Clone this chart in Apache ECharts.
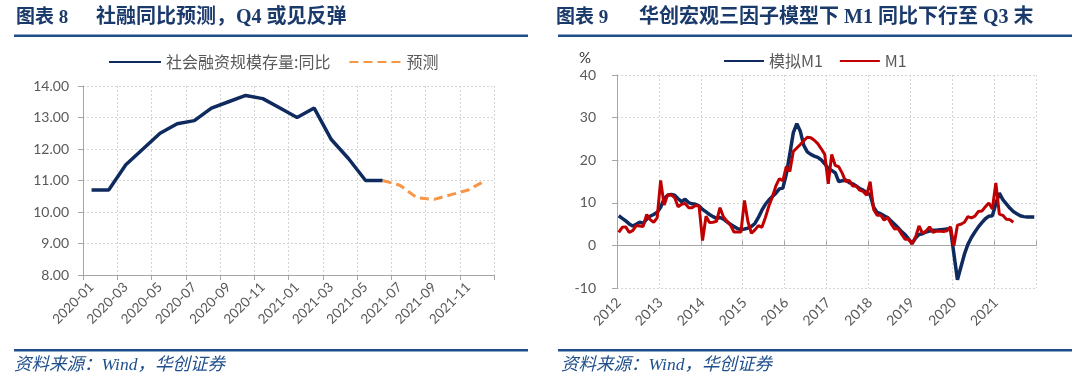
<!DOCTYPE html>
<html><head><meta charset="utf-8">
<script src="https://cdn.jsdelivr.net/npm/echarts@6/dist/echarts.min.js"></script>
<style>html,body{margin:0;padding:0;background:#fff}#c{width:1080px;height:387px}</style>
</head><body><div id="c"></div>
<script>
// ---------- Left chart: 社融同比 ----------
const sfMonths = ['2020-01','2020-02','2020-03','2020-04','2020-05','2020-06','2020-07','2020-08','2020-09','2020-10','2020-11','2020-12',
                  '2021-01','2021-02','2021-03','2021-04','2021-05','2021-06','2021-07','2021-08','2021-09','2021-10','2021-11','2021-12'];
const sfActual = [10.7,10.7,11.5,12.0,12.5,12.8,12.9,13.3,13.5,13.7,13.6,13.3,
                  13.0,13.3,12.3,11.7,11.0,11.0,null,null,null,null,null,null];
const sfForecast = [null,null,null,null,null,null,null,null,null,null,null,null,
                    null,null,null,null,null,11.0,10.85,10.45,10.4,10.55,10.7,11.0];
const sfYMin = 8, sfYMax = 14, sfYStep = 1;

// ---------- Right chart: M1 ----------
const m1Years = ['2012','2013','2014','2015','2016','2017','2018','2019','2020','2021'];
const m1Model = [
  7.0, 6.4, 5.8, 5.1, 4.6, 5.0, 5.5, 5.2, 6.2, 6.9, 7.3, 7.8,
  9.0, 11.0, 11.8, 12.0, 11.8, 11.0, 10.3, 10.9, 10.1, 9.8, 9.7, 9.3,
  8.5, 7.9, 7.3, 6.8, 6.4, 6.6, 6.2, 5.6, 5.0, 4.5, 4.0, 3.8,
  3.9, 4.1, 4.5, 5.2, 6.6, 8.3, 9.7, 10.7, 11.5, 12.3, 13.3, 13.5,
  16.8, 21.5, 26.5, 28.6, 26.8, 23.5, 22.0, 21.4, 21.0, 20.7, 20.1, 19.2,
  18.1, 17.6, 17.1, 15.0, 15.2, 15.4, 14.8, 14.5, 14.0, 13.4, 13.0, 12.4,
  12.0, 9.0, 7.8, 7.5, 7.0, 6.6, 5.8, 5.0, 4.2, 3.3, 2.6, 1.6,
  0.5, 1.8, 2.6, 2.8, 3.2, 3.4, 3.6, 3.6, 3.7, 3.8, 3.9, 4.0,
  -2.0, -8.0, -5.0, -2.0, 0.3, 1.9, 3.2, 4.4, 5.4, 6.3, 6.9, 7.0,
  9.8, 12.3, 10.8, 9.8, 8.8, 8.0, 7.5, 7.0, 6.8, 6.7, 6.7, 6.7
];
const m1Actual = [
  3.1, 4.3, 4.4, 3.1, 3.5, 4.7, 4.6, 4.5, 7.3, 6.1, 5.5, 6.5,
  15.3, 9.5, 11.9, 11.9, 11.3, 9.1, 9.7, 9.9, 8.9, 8.9, 9.4, 9.3,
  1.2, 6.9, 5.4, 5.5, 5.7, 8.9, 6.7, 5.7, 4.8, 3.2, 3.2, 3.2,
  10.6, 5.6, 2.9, 3.7, 4.7, 4.3, 6.6, 9.3, 11.4, 14.0, 15.7, 15.2,
  18.6, 17.4, 22.1, 22.9, 23.7, 24.6, 25.4, 25.3, 24.7, 23.9, 22.7, 21.4,
  14.5, 21.4, 18.8, 18.5, 17.0, 15.0, 15.3, 14.0, 14.0, 13.0, 12.7, 11.8,
  15.0, 8.5, 7.1, 7.2, 6.0, 6.6, 5.1, 3.9, 4.0, 2.7, 1.5, 1.5,
  0.4, 2.0, 4.6, 2.9, 3.4, 4.4, 3.1, 3.4, 3.4, 3.3, 3.5, 4.4,
  0.0, 4.8, 5.0, 5.5, 6.8, 6.5, 6.9, 8.0, 8.1, 9.1, 10.0, 8.6,
  14.7, 7.4, 7.1, 6.2, 6.1, 5.5
];
const m1YMin = -10, m1YMax = 40, m1YStep = 10;

// month categories built from the year list
const m1Months = [];
m1Years.forEach(y => { for (let k = 1; k <= 12; k++) m1Months.push(y + '-' + (k < 10 ? '0' + k : k)); });

const AX = '#A6A6A6', GRIDC = '#D4D4D4', LBL = '#595959';
const NAVY = '#0E2A5E', ORANGE = '#F79646', RED = '#C00000';
const RULE = '#1F4E8C', TITLE = '#1B3A6C';
const numFont = 'Lato, "Noto Sans CJK SC", sans-serif';
const cjkFont = '"Noto Sans CJK SC", Lato, sans-serif';
const titleFont = '"Liberation Serif", "Noto Sans CJK SC", serif';
const dotted = { color: GRIDC, width: 1, type: [2, 2] };
const noSymbol = { color: 'rgba(0,0,0,0)', borderColor: 'rgba(0,0,0,0)', borderWidth: 0 };

const chart = echarts.init(document.getElementById('c'), null, { renderer: 'canvas' });
chart.setOption({
  animation: false,
  backgroundColor: '#fff',
  grid: [
    { left: 83, top: 86, width: 411, height: 189, containLabel: false },
    { left: 617, top: 75, width: 419, height: 213.3, containLabel: false }
  ],
  legend: [
    { data: ['社会融资规模存量:同比', '预测'], left: 103, top: 49, itemWidth: 52, itemHeight: 12, itemGap: 18,
      itemStyle: noSymbol, textStyle: { color: LBL, fontSize: 16, fontFamily: cjkFont } },
    { data: ['模拟M1', 'M1'], left: 718, top: 48, itemWidth: 40, itemHeight: 12, itemGap: 16,
      itemStyle: noSymbol, textStyle: { color: LBL, fontSize: 16, fontFamily: cjkFont } }
  ],
  xAxis: [
    { gridIndex: 0, type: 'category', data: sfMonths, boundaryGap: true,
      axisLine: { show: true, lineStyle: { color: AX, width: 1 } },
      axisTick: { show: true, interval: 1, length: 5, lineStyle: { color: AX } },
      axisLabel: { interval: 1, rotate: 45, color: LBL, fontSize: 13.5, fontFamily: numFont, margin: 10 },
      splitLine: { show: true, interval: 1, lineStyle: dotted } },
    { gridIndex: 1, type: 'category', data: m1Months, boundaryGap: true,
      axisLine: { show: false, onZero: false },
      axisTick: { show: false },
      axisLabel: { interval: 11, rotate: 45, color: LBL, fontSize: 14, fontFamily: numFont, margin: 12,
                   formatter: v => v.slice(0, 4) },
      splitLine: { show: true, interval: 11, lineStyle: dotted } },
    { gridIndex: 1, type: 'category', data: m1Months, boundaryGap: true,
      axisLine: { show: true, onZero: true, lineStyle: { color: AX, width: 1 } },
      axisTick: { show: true, interval: 11, length: 5, lineStyle: { color: AX } },
      axisLabel: { show: false },
      splitLine: { show: false } }
  ],
  yAxis: [
    { gridIndex: 0, type: 'value', min: sfYMin, max: sfYMax, interval: sfYStep,
      axisLine: { show: true, lineStyle: { color: AX } },
      axisTick: { show: true, length: 5, lineStyle: { color: AX } },
      axisLabel: { color: LBL, fontSize: 14, fontFamily: numFont, margin: 14, formatter: v => v.toFixed(2) },
      splitLine: { show: true, lineStyle: dotted } },
    { gridIndex: 1, type: 'value', min: m1YMin, max: m1YMax, interval: m1YStep,
      axisLine: { show: true, onZero: false, lineStyle: { color: AX } },
      axisTick: { show: true, length: 5, lineStyle: { color: AX } },
      axisLabel: { color: LBL, fontSize: 14, fontFamily: numFont, margin: 21 },
      splitLine: { show: true, lineStyle: dotted } }
  ],
  series: [
    { name: '社会融资规模存量:同比', type: 'line', xAxisIndex: 0, yAxisIndex: 0, data: sfActual,
      symbol: 'none', color: NAVY, lineStyle: { color: NAVY, width: 3.5 } },
    { name: '预测', type: 'line', xAxisIndex: 0, yAxisIndex: 0, data: sfForecast,
      symbol: 'none', color: ORANGE, lineStyle: { color: ORANGE, width: 3, type: [9, 5] } },
    { name: '模拟M1', type: 'line', xAxisIndex: 1, yAxisIndex: 1, data: m1Model,
      symbol: 'none', color: NAVY, lineStyle: { color: NAVY, width: 3.5 } },
    { name: 'M1', type: 'line', xAxisIndex: 1, yAxisIndex: 1, data: m1Actual,
      symbol: 'none', color: RED, lineStyle: { color: RED, width: 3 } }
  ],
  graphic: [
    { type: 'text', left: 16, top: 9, style: { text: '图表 8', fill: TITLE, font: 'bold 19px ' + titleFont } },
    { type: 'text', left: 96, top: 8, style: { text: '社融同比预测，Q4 或见反弹', fill: TITLE, font: 'bold 20px ' + titleFont } },
    { type: 'text', left: 556, top: 9, style: { text: '图表 9', fill: TITLE, font: 'bold 19px ' + titleFont } },
    { type: 'text', left: 639, top: 8, style: { text: '华创宏观三因子模型下 M1 同比下行至 Q3 末', fill: TITLE, font: 'bold 20px ' + titleFont } },
    { type: 'rect', shape: { x: 14, y: 34.5, width: 514, height: 2.5 }, style: { fill: RULE } },
    { type: 'rect', shape: { x: 558, y: 34.5, width: 514, height: 2.5 }, style: { fill: RULE } },
    { type: 'rect', shape: { x: 14, y: 349, width: 514, height: 2.5 }, style: { fill: RULE } },
    { type: 'rect', shape: { x: 558, y: 349, width: 514, height: 2.5 }, style: { fill: RULE } },
    { type: 'text', left: 14, top: 357, style: { text: '资料来源：Wind，华创证券', fill: RULE,
      font: 'italic 17.5px ' + titleFont } },
    { type: 'text', left: 561, top: 357, style: { text: '资料来源：Wind，华创证券', fill: RULE,
      font: 'italic 17.5px ' + titleFont } },
    { type: 'text', left: 579, top: 51, style: { text: '%', fill: '#333', font: '15px Lato, sans-serif' } }
  ]
});
</script>
</body></html>
